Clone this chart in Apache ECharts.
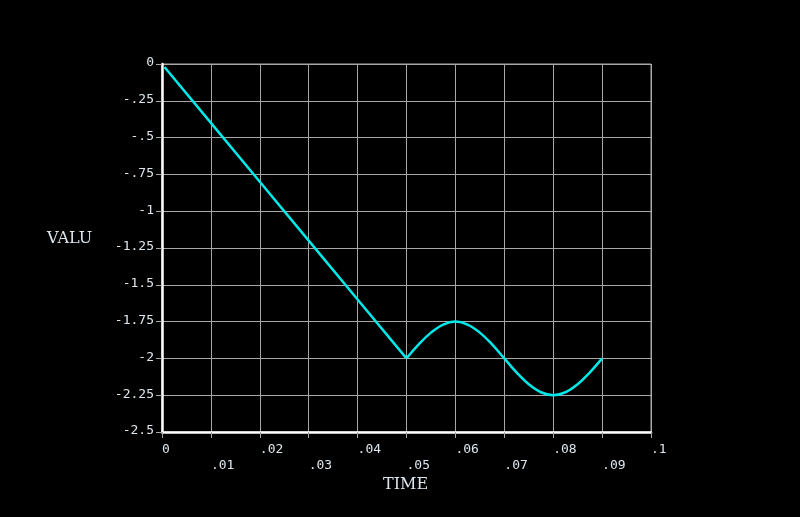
<!DOCTYPE html>
<html>
<head>
<meta charset="utf-8">
<script src="https://cdn.jsdelivr.net/npm/echarts@6/dist/echarts.min.js"></script>
<style>
  html, body { margin: 0; padding: 0; background: #000; }
  #chart { width: 800px; height: 517px; }
</style>
</head>
<body>
<div id="chart"></div>
<script>
// values: straight ramp, then the wave
const rampTimes = [0.0005, 0.01, 0.02, 0.03, 0.04, 0.05]
const rampValues = [-0.02, -0.4, -0.8, -1.2, -1.6, -2]
const waveTimes = [0.05, 0.0525, 0.055, 0.0575, 0.06, 0.0625, 0.065, 0.0675, 0.07,
  0.0725, 0.075, 0.0775, 0.08, 0.0825, 0.085, 0.0875, 0.09]
const waveValues = [-2, -1.905, -1.825, -1.77, -1.75, -1.77, -1.825, -1.905, -2,
  -2.095, -2.175, -2.23, -2.25, -2.23, -2.175, -2.095, -2]
const yTicks = ['0', '-.25', '-.5', '-.75', '-1', '-1.25', '-1.5', '-1.75', '-2', '-2.25', '-2.5']
const xTicks = ['0', '.01', '.02', '.03', '.04', '.05', '.06', '.07', '.08', '.09', '.1']

const chart = echarts.init(document.getElementById('chart'))
const txt = '#dde6ec'
const gridCol = '#a8a8a8'
const lineCol = '#00e8e8'

let option = {
  backgroundColor: '#000',
  animation: false,
  grid: { left: 162, right: 149, top: 64, bottom: 85, show: true, borderColor: gridCol, borderWidth: 1 },
  xAxis: {
    type: 'value', min: 0, max: 0.1, interval: 0.01,
    axisLine: { onZero: false, lineStyle: { color: '#fff', width: 2.5 } },
    axisTick: { show: true, length: 6, lineStyle: { color: gridCol } },
    splitLine: { lineStyle: { color: gridCol, width: 1 } },
    axisLabel: {
      color: txt, fontFamily: 'DejaVu Sans Mono', fontSize: 13, lineHeight: 16,
      align: 'left', margin: 10, showMaxLabel: true, showMinLabel: true,
      formatter: (v) => {
        let i = Math.round(v * 100)
        return i % 2 ? '\n' + xTicks[i] : xTicks[i]
      }
    }
  },
  yAxis: {
    type: 'value', min: -2.5, max: 0, interval: 0.25,
    axisLine: { show: true, onZero: false, lineStyle: { color: '#fff', width: 2.5 } },
    axisTick: { show: true, length: 6, lineStyle: { color: gridCol } },
    splitLine: { lineStyle: { color: gridCol, width: 1 } },
    axisLabel: {
      color: txt, fontFamily: 'DejaVu Sans Mono', fontSize: 13, margin: 8,
      verticalAlign: 'bottom', lineHeight: 14, padding: [0, 0, -6, 0],
      formatter: (v) => yTicks[Math.round(-v / 0.25)]
    }
  },
  graphic: [
    { type: 'text', left: 47, top: 231, style: { text: 'VALU', fill: txt, font: '16px "DejaVu Serif"' } },
    { type: 'text', left: 383, top: 477, style: { text: 'TIME', fill: txt, font: '16px "DejaVu Serif"' } }
  ],
  series: [
    {
      type: 'line', showSymbol: false,
      data: rampTimes.map((t, i) => [t, rampValues[i]]),
      lineStyle: { color: lineCol, width: 2.5 }
    },
    {
      type: 'line', showSymbol: false, smooth: 0.4,
      data: waveTimes.map((t, i) => [t, waveValues[i]]),
      lineStyle: { color: lineCol, width: 2.5 }
    }
  ]
}
chart.setOption(option)
</script>
</body>
</html>
